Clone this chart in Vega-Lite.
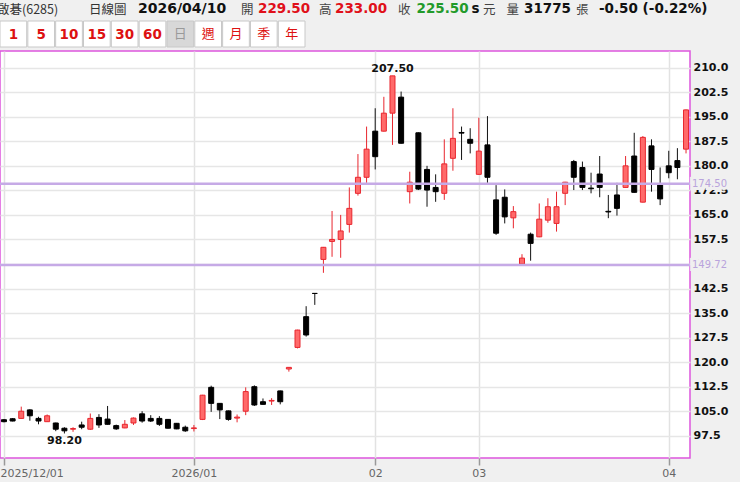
{
  "$schema": "https://vega.github.io/schema/vega-lite/v6.json",
  "width": 690,
  "height": 407,
  "autosize": {"type": "none"},
  "padding": {"left": 0, "top": 51, "right": 50, "bottom": 24},
  "background": "#f0f0f0",
  "view": {"fill": "#ffffff", "stroke": "#dd55dd", "strokeWidth": 1.5},
  "config": {
    "font": "DejaVu Sans",
    "view": {"fill": "#ffffff", "stroke": "#dd55dd", "strokeWidth": 1.5}
  },
  "datasets": {
    "ohlc": [
      {"d": "2025-12-01", "o": 102.4, "h": 102.6, "l": 101.6, "c": 101.8},
      {"d": "2025-12-02", "o": 102.7, "h": 102.9, "l": 101.9, "c": 102.0},
      {"d": "2025-12-03", "o": 102.8, "h": 106.4, "l": 102.8, "c": 105.0},
      {"d": "2025-12-04", "o": 105.4, "h": 105.6, "l": 102.1, "c": 103.6},
      {"d": "2025-12-05", "o": 102.8, "h": 103.3, "l": 101.0, "c": 102.0},
      {"d": "2025-12-08", "o": 101.8, "h": 104.0, "l": 101.8, "c": 103.6},
      {"d": "2025-12-09", "o": 101.4, "h": 101.5, "l": 98.9, "c": 99.5},
      {"d": "2025-12-10", "o": 99.8, "h": 100.1, "l": 98.2, "c": 99.0},
      {"d": "2025-12-11", "o": 99.5, "h": 100.1, "l": 98.7, "c": 99.7},
      {"d": "2025-12-12", "o": 100.8, "h": 101.8, "l": 99.5, "c": 100.1},
      {"d": "2025-12-15", "o": 99.5, "h": 104.3, "l": 99.3, "c": 102.8},
      {"d": "2025-12-16", "o": 103.1, "h": 104.1, "l": 99.9, "c": 100.8},
      {"d": "2025-12-17", "o": 102.6, "h": 106.6, "l": 100.9, "c": 101.0},
      {"d": "2025-12-18", "o": 100.6, "h": 100.9, "l": 99.3, "c": 99.6},
      {"d": "2025-12-19", "o": 99.9, "h": 102.3, "l": 99.8, "c": 101.0},
      {"d": "2025-12-22", "o": 101.4, "h": 103.1, "l": 100.8, "c": 102.9},
      {"d": "2025-12-23", "o": 104.2, "h": 105.0, "l": 101.5, "c": 102.0},
      {"d": "2025-12-24", "o": 102.8, "h": 103.8, "l": 101.7, "c": 102.0},
      {"d": "2025-12-26", "o": 102.8, "h": 103.5, "l": 100.5, "c": 101.0},
      {"d": "2025-12-29", "o": 102.5, "h": 102.6, "l": 99.7, "c": 99.8},
      {"d": "2025-12-30", "o": 101.3, "h": 101.4, "l": 99.5, "c": 99.6},
      {"d": "2025-12-31", "o": 100.1, "h": 100.6, "l": 98.7, "c": 99.0},
      {"d": "2026-01-02", "o": 99.7, "h": 100.8, "l": 98.8, "c": 99.9},
      {"d": "2026-01-05", "o": 102.5, "h": 110.0, "l": 102.3, "c": 109.9},
      {"d": "2026-01-06", "o": 112.3, "h": 112.8, "l": 104.8, "c": 107.4},
      {"d": "2026-01-07", "o": 107.4, "h": 107.5, "l": 102.6, "c": 105.4},
      {"d": "2026-01-08", "o": 105.1, "h": 105.2, "l": 102.1, "c": 102.5},
      {"d": "2026-01-09", "o": 102.9, "h": 104.0, "l": 101.6, "c": 103.2},
      {"d": "2026-01-12", "o": 105.0, "h": 112.3, "l": 103.8, "c": 111.0},
      {"d": "2026-01-13", "o": 112.5, "h": 112.9, "l": 106.6, "c": 106.9},
      {"d": "2026-01-14", "o": 107.9, "h": 108.9, "l": 107.0, "c": 107.1},
      {"d": "2026-01-15", "o": 108.1, "h": 109.0, "l": 106.9, "c": 108.3},
      {"d": "2026-01-16", "o": 111.2, "h": 111.3, "l": 107.1, "c": 107.9},
      {"d": "2026-01-19", "o": 117.9, "h": 118.5, "l": 117.1, "c": 118.4},
      {"d": "2026-01-20", "o": 124.5, "h": 129.9, "l": 124.2, "c": 129.8},
      {"d": "2026-01-21", "o": 133.9, "h": 137.1, "l": 127.8, "c": 128.3},
      {"d": "2026-01-22", "o": 141.0, "h": 141.0, "l": 137.5, "c": 141.0},
      {"d": "2026-01-23", "o": 151.4, "h": 155.2, "l": 147.3, "c": 155.1},
      {"d": "2026-01-26", "o": 156.9, "h": 166.2, "l": 152.2, "c": 157.5},
      {"d": "2026-01-27", "o": 157.5, "h": 165.0, "l": 151.9, "c": 160.1},
      {"d": "2026-01-28", "o": 162.1, "h": 173.4, "l": 159.6, "c": 167.0},
      {"d": "2026-01-29", "o": 171.6, "h": 183.6, "l": 170.9, "c": 176.5},
      {"d": "2026-01-30", "o": 176.5, "h": 192.0, "l": 174.8, "c": 185.1},
      {"d": "2026-02-02", "o": 190.6, "h": 197.6, "l": 178.9, "c": 182.8},
      {"d": "2026-02-03", "o": 190.6, "h": 201.1, "l": 190.5, "c": 196.1},
      {"d": "2026-02-04", "o": 196.1, "h": 207.5, "l": 186.4, "c": 207.5},
      {"d": "2026-02-05", "o": 201.0, "h": 202.7, "l": 186.8, "c": 186.9},
      {"d": "2026-02-06", "o": 172.1, "h": 178.2, "l": 168.5, "c": 175.0},
      {"d": "2026-02-09", "o": 190.1, "h": 190.2, "l": 172.6, "c": 172.9},
      {"d": "2026-02-10", "o": 178.9, "h": 180.0, "l": 167.5, "c": 172.6},
      {"d": "2026-02-11", "o": 173.4, "h": 177.4, "l": 169.0, "c": 172.1},
      {"d": "2026-02-23", "o": 171.6, "h": 188.1, "l": 169.6, "c": 180.6},
      {"d": "2026-02-24", "o": 182.3, "h": 197.6, "l": 178.5, "c": 188.4},
      {"d": "2026-02-25", "o": 190.2, "h": 192.0, "l": 181.8, "c": 190.0},
      {"d": "2026-02-26", "o": 188.1, "h": 191.5, "l": 183.8, "c": 186.9},
      {"d": "2026-03-02", "o": 177.4, "h": 194.7, "l": 177.3, "c": 184.5},
      {"d": "2026-03-03", "o": 186.4, "h": 195.2, "l": 174.8, "c": 176.5},
      {"d": "2026-03-04", "o": 169.6, "h": 174.1, "l": 158.9, "c": 159.4},
      {"d": "2026-03-05", "o": 170.4, "h": 172.8, "l": 162.4, "c": 164.4},
      {"d": "2026-03-06", "o": 164.1, "h": 167.7, "l": 160.9, "c": 166.0},
      {"d": "2026-03-09", "o": 150.0, "h": 153.0, "l": 149.9, "c": 151.8},
      {"d": "2026-03-10", "o": 159.1, "h": 159.6, "l": 151.0, "c": 156.3},
      {"d": "2026-03-11", "o": 158.3, "h": 168.5, "l": 158.2, "c": 163.7},
      {"d": "2026-03-12", "o": 163.4, "h": 170.1, "l": 162.6, "c": 167.5},
      {"d": "2026-03-13", "o": 162.4, "h": 172.1, "l": 159.9, "c": 167.5},
      {"d": "2026-03-16", "o": 171.6, "h": 175.1, "l": 168.0, "c": 175.0},
      {"d": "2026-03-17", "o": 181.3, "h": 181.8, "l": 172.6, "c": 176.5},
      {"d": "2026-03-18", "o": 179.5, "h": 181.3, "l": 172.6, "c": 173.4},
      {"d": "2026-03-19", "o": 173.2, "h": 177.9, "l": 171.6, "c": 173.0},
      {"d": "2026-03-20", "o": 177.5, "h": 183.0, "l": 170.4, "c": 173.4},
      {"d": "2026-03-23", "o": 166.1, "h": 171.1, "l": 164.0, "c": 165.9},
      {"d": "2026-03-24", "o": 171.1, "h": 174.8, "l": 164.8, "c": 167.0},
      {"d": "2026-03-25", "o": 173.4, "h": 183.0, "l": 173.3, "c": 180.0},
      {"d": "2026-03-26", "o": 183.0, "h": 190.1, "l": 171.8, "c": 171.9},
      {"d": "2026-03-27", "o": 168.9, "h": 189.1, "l": 168.8, "c": 188.7},
      {"d": "2026-03-30", "o": 186.1, "h": 188.1, "l": 172.1, "c": 178.9},
      {"d": "2026-03-31", "o": 174.3, "h": 179.5, "l": 168.0, "c": 169.9},
      {"d": "2026-04-01", "o": 180.0, "h": 184.6, "l": 176.2, "c": 177.9},
      {"d": "2026-04-02", "o": 181.6, "h": 185.4, "l": 175.9, "c": 179.5},
      {"d": "2026-04-07", "o": 185.1, "h": 197.2, "l": 183.8, "c": 197.1}
    ],
    "levels": [
      {"level": 174.5, "label": "174.50"},
      {"level": 149.72, "label": "149.72"}
    ],
    "highs": [{"d": "2026-02-04", "v": 207.5, "t": "207.50"}],
    "lows": [{"d": "2025-12-10", "v": 98.2, "t": "98.20"}],
    "buttons": [
      {"b": "1", "kind": "num"}, {"b": "5", "kind": "num"}, {"b": "10", "kind": "num"},
      {"b": "15", "kind": "num"}, {"b": "30", "kind": "num"}, {"b": "60", "kind": "num"},
      {"b": "日", "kind": "cjk"}, {"b": "週", "kind": "cjk"}, {"b": "月", "kind": "cjk"},
      {"b": "季", "kind": "cjk"}, {"b": "年", "kind": "cjk"}
    ]
  },
  "resolve": {"scale": {"x": "independent"}},
  "layer": [
    {
      "layer": [
        {
          "data": {"name": "ohlc"},
          "mark": {"type": "rule", "strokeWidth": 1},
          "encoding": {
            "x": {
              "field": "d", "type": "ordinal", "sort": "ascending",
              "scale": {"type": "point", "padding": 0.46},
              "axis": {
                "title": null,
                "values": ["2025-12-01", "2026-01-02", "2026-02-02", "2026-03-02", "2026-04-01"],
                "labelExpr": "datum.value == '2025-12-01' ? '2025/12/01' : datum.value == '2026-01-02' ? '2026/01' : substring(datum.value, 5, 7)",
                "labelAngle": 0,
                "labelFlush": 6,
                "labelFlushOffset": 4,
                "labelColor": "#666666",
                "labelFontSize": 11,
                "labelPadding": 2,
                "tickSize": 7,
                "tickColor": "#999999",
                "tickWidth": 1.5,
                "domain": false,
                "grid": true,
                "gridColor": "#e2e2e2",
                "gridWidth": 1.5
              }
            },
            "y": {
              "field": "l", "type": "quantitative",
              "scale": {"domain": [90.7, 215.1], "nice": false, "zero": false},
              "axis": {
                "orient": "right",
                "title": null,
                "values": [97.5, 105, 112.5, 120, 127.5, 135, 142.5, 150, 157.5, 165, 172.5, 180, 187.5, 195, 202.5, 210],
                "tickCount": 40,
                "format": ".1f",
                "labelOverlap": false,
                "labelFont": "DejaVu Sans",
                "labelFontWeight": "bold",
                "labelFontSize": 11,
                "labelColor": "#111111",
                "labelPadding": 3,
                "ticks": false,
                "domain": false,
                "grid": true,
                "gridColor": "#e6e6e6",
                "gridWidth": 1.5
              }
            },
            "y2": {"field": "h"},
            "stroke": {"condition": {"test": "datum.c > datum.o", "value": "#e8262e"}, "value": "#111111"}
          }
        },
        {
          "data": {"name": "ohlc"},
          "mark": {"type": "bar", "size": 5, "strokeWidth": 1},
          "encoding": {
            "x": {"field": "d", "type": "ordinal", "sort": "ascending"},
            "y": {"field": "o", "type": "quantitative"},
            "y2": {"field": "c"},
            "fill": {"condition": {"test": "datum.c > datum.o", "value": "#ff6a6a"}, "value": "#000000"},
            "stroke": {"condition": {"test": "datum.c > datum.o", "value": "#e8262e"}, "value": "#000000"}
          }
        },
        {
          "data": {"name": "levels"},
          "mark": {"type": "rule", "color": "#c6aae6", "strokeWidth": 2.5},
          "encoding": {"y": {"field": "level", "type": "quantitative"}}
        },
        {
          "data": {"name": "levels"},
          "mark": {"type": "text", "align": "left", "baseline": "middle", "dx": 2, "fontSize": 10, "color": "#f0f0f0", "stroke": "#f0f0f0", "strokeWidth": 6, "font": "DejaVu Sans"},
          "encoding": {
            "x": {"value": "width"},
            "y": {"field": "level", "type": "quantitative"},
            "text": {"field": "label"}
          }
        },
        {
          "data": {"name": "levels"},
          "mark": {"type": "text", "align": "left", "baseline": "middle", "dx": 2, "fontSize": 10, "color": "#b9a4dc", "font": "DejaVu Sans"},
          "encoding": {
            "x": {"value": "width"},
            "y": {"field": "level", "type": "quantitative"},
            "text": {"field": "label"}
          }
        },
        {
          "data": {"name": "highs"},
          "mark": {"type": "text", "baseline": "bottom", "dy": -2, "fontSize": 11, "fontWeight": "bold", "color": "#111111"},
          "encoding": {
            "x": {"field": "d", "type": "ordinal", "sort": "ascending"},
            "y": {"field": "v", "type": "quantitative"},
            "text": {"field": "t"}
          }
        },
        {
          "data": {"name": "lows"},
          "mark": {"type": "text", "baseline": "top", "dy": 2, "fontSize": 11, "fontWeight": "bold", "color": "#111111"},
          "encoding": {
            "x": {"field": "d", "type": "ordinal", "sort": "ascending"},
            "y": {"field": "v", "type": "quantitative"},
            "text": {"field": "t"}
          }
        }
      ]
    },
    {
      "layer": [
        {
          "data": {"name": "buttons"},
          "mark": {"type": "rect", "stroke": "#c8c8c8", "strokeWidth": 1},
          "encoding": {
            "x": {
              "field": "b", "type": "nominal",
              "scale": {"type": "band", "domain": ["1", "5", "10", "15", "30", "60", "日", "週", "月", "季", "年"], "range": [0, 305], "paddingInner": 0.04, "paddingOuter": 0},
              "axis": null
            },
            "y": {"value": -30},
            "y2": {"value": -4},
            "fill": {"condition": {"test": "datum.b == '日'", "value": "#d8d8d8"}, "value": "#ffffff"}
          }
        },
        {
          "data": {"name": "buttons"},
          "transform": [{"filter": "datum.kind == 'num'"}],
          "mark": {"type": "text", "fontSize": 13.5, "fontWeight": "bold", "font": "DejaVu Sans", "color": "#dd1111", "baseline": "alphabetic"},
          "encoding": {
            "x": {"field": "b", "type": "nominal", "axis": null},
            "y": {"value": -12.5},
            "text": {"field": "b"}
          }
        },
        {
          "data": {"name": "buttons"},
          "transform": [{"filter": "datum.kind == 'cjk'"}],
          "mark": {"type": "text", "fontSize": 13, "font": "Noto Sans CJK TC", "baseline": "middle"},
          "encoding": {
            "x": {"field": "b", "type": "nominal", "axis": null},
            "y": {"value": -17},
            "text": {"field": "b"},
            "color": {"condition": {"test": "datum.b == '日'", "value": "#9a9a9a"}, "value": "#dd1111"}
          }
        }
      ]
    },
    {"data": {"values": [{}]}, "mark": {"type": "text", "text": "啟碁(6285)", "x": -3, "y": -41, "align": "left", "baseline": "middle", "fontSize": 12.5, "font": "Noto Sans CJK TC", "color": "#333333"}, "encoding": {}},
    {"data": {"values": [{}]}, "mark": {"type": "text", "text": "日線圖", "x": 89, "y": -41, "align": "left", "baseline": "middle", "fontSize": 12.5, "font": "Noto Sans CJK TC", "color": "#333333"}, "encoding": {}},
    {"data": {"values": [{}]}, "mark": {"type": "text", "text": "2026/04/10", "x": 138, "y": -42, "align": "left", "baseline": "middle", "fontSize": 14, "fontWeight": "bold", "font": "DejaVu Sans", "color": "#111111"}, "encoding": {}},
    {"data": {"values": [{}]}, "mark": {"type": "text", "text": "開", "x": 241, "y": -41, "align": "left", "baseline": "middle", "fontSize": 12.5, "font": "Noto Sans CJK TC", "color": "#444444"}, "encoding": {}},
    {"data": {"values": [{}]}, "mark": {"type": "text", "text": "229.50", "x": 258, "y": -42, "align": "left", "baseline": "middle", "fontSize": 13.5, "fontWeight": "bold", "font": "DejaVu Sans", "color": "#e0101a"}, "encoding": {}},
    {"data": {"values": [{}]}, "mark": {"type": "text", "text": "高", "x": 319, "y": -41, "align": "left", "baseline": "middle", "fontSize": 12.5, "font": "Noto Sans CJK TC", "color": "#444444"}, "encoding": {}},
    {"data": {"values": [{}]}, "mark": {"type": "text", "text": "233.00", "x": 335, "y": -42, "align": "left", "baseline": "middle", "fontSize": 13.5, "fontWeight": "bold", "font": "DejaVu Sans", "color": "#e0101a"}, "encoding": {}},
    {"data": {"values": [{}]}, "mark": {"type": "text", "text": "收", "x": 398, "y": -41, "align": "left", "baseline": "middle", "fontSize": 12.5, "font": "Noto Sans CJK TC", "color": "#444444"}, "encoding": {}},
    {"data": {"values": [{}]}, "mark": {"type": "text", "text": "225.50", "x": 416.5, "y": -42, "align": "left", "baseline": "middle", "fontSize": 13.5, "fontWeight": "bold", "font": "DejaVu Sans", "color": "#229a2a"}, "encoding": {}},
    {"data": {"values": [{}]}, "mark": {"type": "text", "text": "s", "x": 471.5, "y": -42, "align": "left", "baseline": "middle", "fontSize": 13.5, "fontWeight": "bold", "font": "DejaVu Sans", "color": "#111111"}, "encoding": {}},
    {"data": {"values": [{}]}, "mark": {"type": "text", "text": "元", "x": 483, "y": -41, "align": "left", "baseline": "middle", "fontSize": 12.5, "font": "Noto Sans CJK TC", "color": "#444444"}, "encoding": {}},
    {"data": {"values": [{}]}, "mark": {"type": "text", "text": "量", "x": 506.5, "y": -41, "align": "left", "baseline": "middle", "fontSize": 12.5, "font": "Noto Sans CJK TC", "color": "#444444"}, "encoding": {}},
    {"data": {"values": [{}]}, "mark": {"type": "text", "text": "31775", "x": 524, "y": -42, "align": "left", "baseline": "middle", "fontSize": 13.5, "fontWeight": "bold", "font": "DejaVu Sans", "color": "#111111"}, "encoding": {}},
    {"data": {"values": [{}]}, "mark": {"type": "text", "text": "張", "x": 576, "y": -41, "align": "left", "baseline": "middle", "fontSize": 12.5, "font": "Noto Sans CJK TC", "color": "#444444"}, "encoding": {}},
    {"data": {"values": [{}]}, "mark": {"type": "text", "text": "-0.50 (-0.22%)", "x": 599, "y": -42, "align": "left", "baseline": "middle", "fontSize": 13.5, "fontWeight": "bold", "font": "DejaVu Sans", "color": "#111111"}, "encoding": {}}
  ]
}
